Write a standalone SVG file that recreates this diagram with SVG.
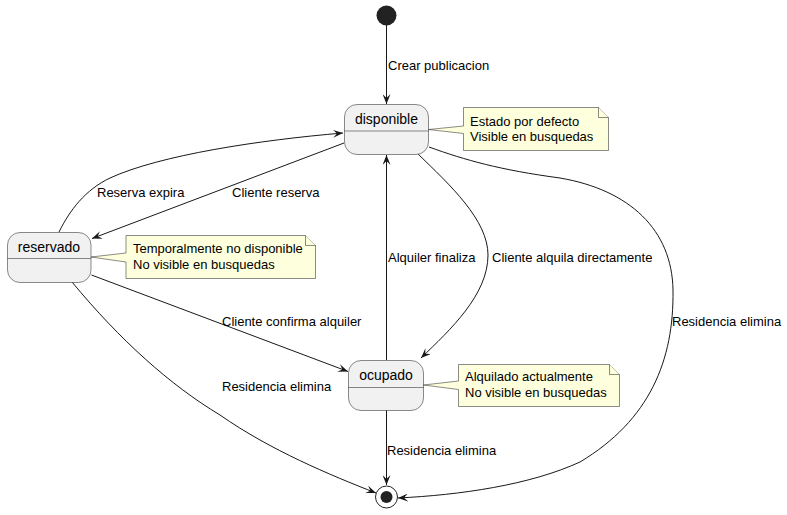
<svg xmlns="http://www.w3.org/2000/svg" width="787" height="515" viewBox="0 0 787 515">
<style>
.st{fill:#F1F1F1;stroke:#181818;stroke-width:0.5}
.sep{stroke:#181818;stroke-width:0.5}
.note{fill:#FEFFDD;stroke:#181818;stroke-width:0.5}
.name{font-family:"Liberation Sans",Arial,sans-serif;font-size:14px;fill:#000;text-anchor:middle}
.t{font-family:"Liberation Sans",Arial,sans-serif;font-size:13px;fill:#000}
.c{fill:none;stroke:#181818;stroke-width:1}
</style>
<defs>
<marker id="ah" viewBox="0 0 10 8" refX="10" refY="4" markerWidth="10" markerHeight="8" markerUnits="userSpaceOnUse" orient="auto">
<path d="M0,0 L10,4 L0,8 L4,4 Z" fill="#181818"/>
</marker>
</defs>
<rect width="787" height="515" fill="#FFFFFF"/>
<g id="connectors">
<path class="c" d="M386.5,25 L386.5,104" marker-end="url(#ah)"/>
<text class="t" x="388" y="70">Crear publicacion</text>
<path class="c" d="M386.5,360 L386.5,155" marker-end="url(#ah)"/>
<text class="t" x="388" y="262">Alquiler finaliza</text>
<path class="c" d="M386.5,410 L386.5,485" marker-end="url(#ah)"/>
<text class="t" x="387" y="455">Residencia elimina</text>
<path class="c" d="M344,143 L92,238.5" marker-end="url(#ah)"/>
<text class="t" x="232" y="197">Cliente reserva</text>
<path class="c" d="M59,232 C70,210 85,190 110,178 C160,155 260,140 343,133" marker-end="url(#ah)"/>
<text class="t" x="97" y="197">Reserva expira</text>
<path class="c" d="M418,154 C450,185 488,220 488,255 C488,295 450,330 421,358" marker-end="url(#ah)"/>
<text class="t" x="492" y="262">Cliente alquila directamente</text>
<path class="c" d="M429,147 C465,160 500,170 560,178 C630,190 672,230 673,290 C674,360 650,420 580,462 C530,485 460,495 398,498" marker-end="url(#ah)"/>
<text class="t" x="672" y="326">Residencia elimina</text>
<path class="c" d="M91.5,275 L348,371.5" marker-end="url(#ah)"/>
<text class="t" x="222" y="326">Cliente confirma alquiler</text>
<path class="c" d="M72,282 C120,340 170,385 220,415 C270,450 330,475 376,493" marker-end="url(#ah)"/>
<text class="t" x="222" y="391">Residencia elimina</text>
</g>
<g id="start">
<circle cx="386.5" cy="15.5" r="10" fill="#222222"/>
</g>
<g id="end">
<circle cx="386.5" cy="497" r="11" fill="none" stroke="#222222" stroke-width="1"/>
<circle cx="386.5" cy="497" r="6" fill="#222222"/>
</g>
<g id="disponible">
<rect class="st" x="344.5" y="104.5" width="84" height="50" rx="12.5" ry="12.5"/>
<line class="sep" x1="344.5" y1="131" x2="428.5" y2="131"/>
<text class="name" x="386.5" y="124">disponible</text>
</g>
<g id="note_disponible">
<path class="note" d="M463.5,107.5 L598.5,107.5 L608.5,117.5 L608.5,150.5 L463.5,150.5 L463.5,133.5 L428.5,129.5 L463.5,126 Z"/>
<path class="note" d="M598.5,107.5 L598.5,117.5 L608.5,117.5"/>
<text class="t" x="470" y="126">Estado por defecto</text>
<text class="t" x="470" y="141">Visible en busquedas</text>
</g>
<g id="reservado">
<rect class="st" x="7.5" y="232.5" width="83.5" height="50" rx="12.5" ry="12.5"/>
<line class="sep" x1="7.5" y1="258.5" x2="91" y2="258.5"/>
<text class="name" x="49" y="252">reservado</text>
</g>
<g id="note_reservado">
<path class="note" d="M126,235.5 L305.5,235.5 L315.5,245.5 L315.5,278.5 L126,278.5 L126,262 L91,257 L126,253 Z"/>
<path class="note" d="M305.5,235.5 L305.5,245.5 L315.5,245.5"/>
<text class="t" x="133" y="253">Temporalmente no disponible</text>
<text class="t" x="133" y="269">No visible en busquedas</text>
</g>
<g id="ocupado">
<rect class="st" x="348.5" y="360.5" width="75" height="50" rx="12.5" ry="12.5"/>
<line class="sep" x1="348.5" y1="387.5" x2="423.5" y2="387.5"/>
<text class="name" x="386" y="380">ocupado</text>
</g>
<g id="note_ocupado">
<path class="note" d="M458.5,364.5 L609.5,364.5 L619.5,374.5 L619.5,406.5 L458.5,406.5 L458.5,389.5 L423.5,385 L458.5,381 Z"/>
<path class="note" d="M609.5,364.5 L609.5,374.5 L619.5,374.5"/>
<text class="t" x="465" y="381">Alquilado actualmente</text>
<text class="t" x="465" y="397">No visible en busquedas</text>
</g>
</svg>
